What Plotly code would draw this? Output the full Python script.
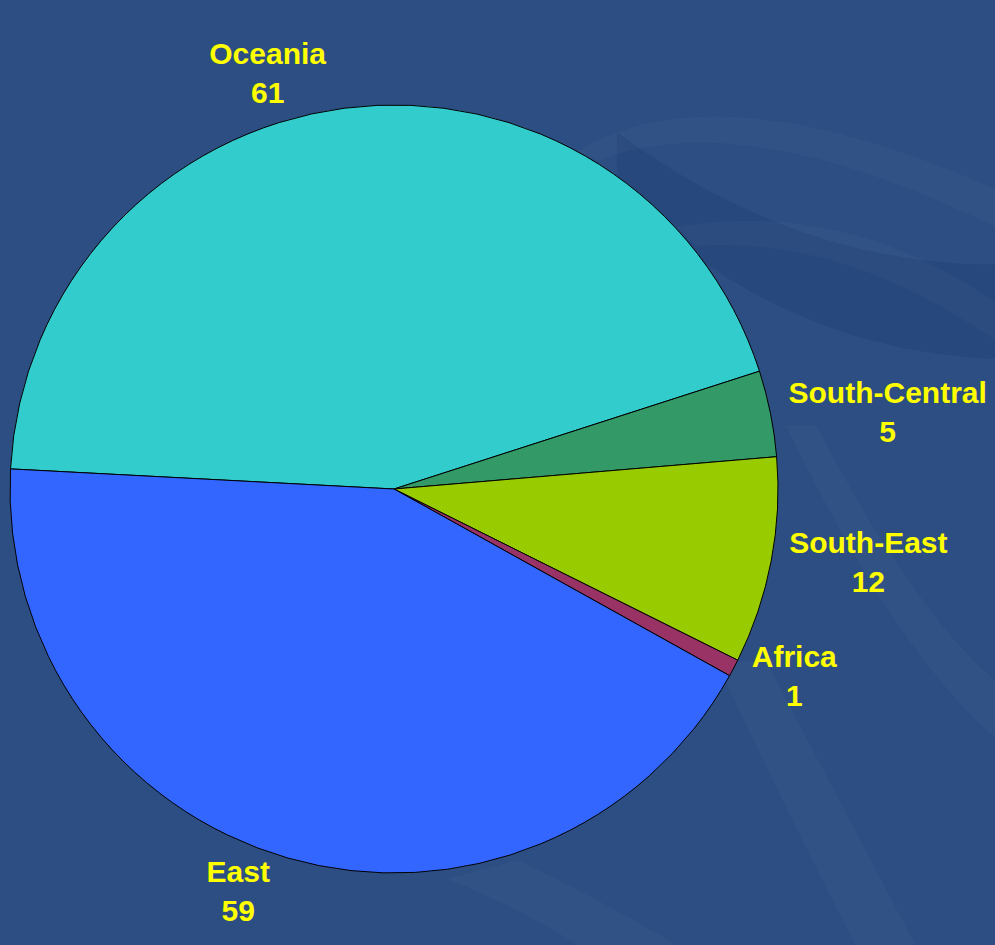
import plotly.graph_objects as go

# regions and their counts, in drawing order (clockwise from the left edge)
regions = ['Oceania', 'South-Central', 'South-East', 'Africa', 'East']
counts = [61, 5, 12, 1, 59]
slice_colors = ['#33CCCC', '#339966', '#99CC00', '#993366', '#3366FF']

labels_text = [f'{r}<br>{c}' for r, c in zip(regions, counts)]

fig = go.Figure(go.Pie(
    labels=regions,
    values=counts,
    text=labels_text,
    textinfo='text',
    textposition='outside',
    sort=False,
    direction='clockwise',
    rotation=273,
    marker=dict(colors=slice_colors, line=dict(color='black', width=1)),
    outsidetextfont=dict(family='Liberation Sans, Arial', size=30,
                         color='#FFFF00', weight='bold'),
    domain=dict(x=[10 / 995, 778 / 995], y=[72 / 945, 840 / 945]),
    showlegend=False,
    hoverinfo='label+value',
))

# faint background swooshes, like the slide template behind the chart
light = 'rgba(255,255,255,0.028)'
dark = 'rgba(10,30,90,0.12)'
bg_paths = [
    ('M 0.58 0.84 Q 0.72 0.93 1.0 0.80 L 1.0 0.76 Q 0.75 0.89 0.60 0.83 Z', light),
    ('M 0.68 0.76 Q 0.85 0.79 1.0 0.68 L 1.0 0.64 Q 0.85 0.75 0.70 0.74 Z', light),
    ('M 0.72 0.30 Q 0.80 0.12 0.86 0.0 L 0.92 0.0 Q 0.85 0.14 0.77 0.30 Z', light),
    ('M 0.45 0.07 Q 0.54 0.03 0.58 0.0 L 0.68 0.0 Q 0.60 0.05 0.52 0.09 Z', light),
    ('M 0.82 0.55 Q 0.92 0.35 1.0 0.28 L 1.0 0.22 Q 0.90 0.31 0.79 0.55 Z', light),
    ('M 0.62 0.86 Q 0.80 0.72 1.0 0.72 L 1.0 0.62 Q 0.78 0.63 0.62 0.80 Z', dark),
]
fig.update_layout(shapes=[
    dict(type='path', xref='paper', yref='paper', path=p, fillcolor=c,
         line=dict(width=0), layer='below')
    for p, c in bg_paths
])

fig.update_layout(
    width=995, height=945,
    margin=dict(l=0, r=0, t=0, b=0),
    paper_bgcolor='#2C4E82',
    plot_bgcolor='#2C4E82',
)

fig.write_html('out.html', config={'displayModeBar': False},
               post_script="document.body.style.margin='0';")
